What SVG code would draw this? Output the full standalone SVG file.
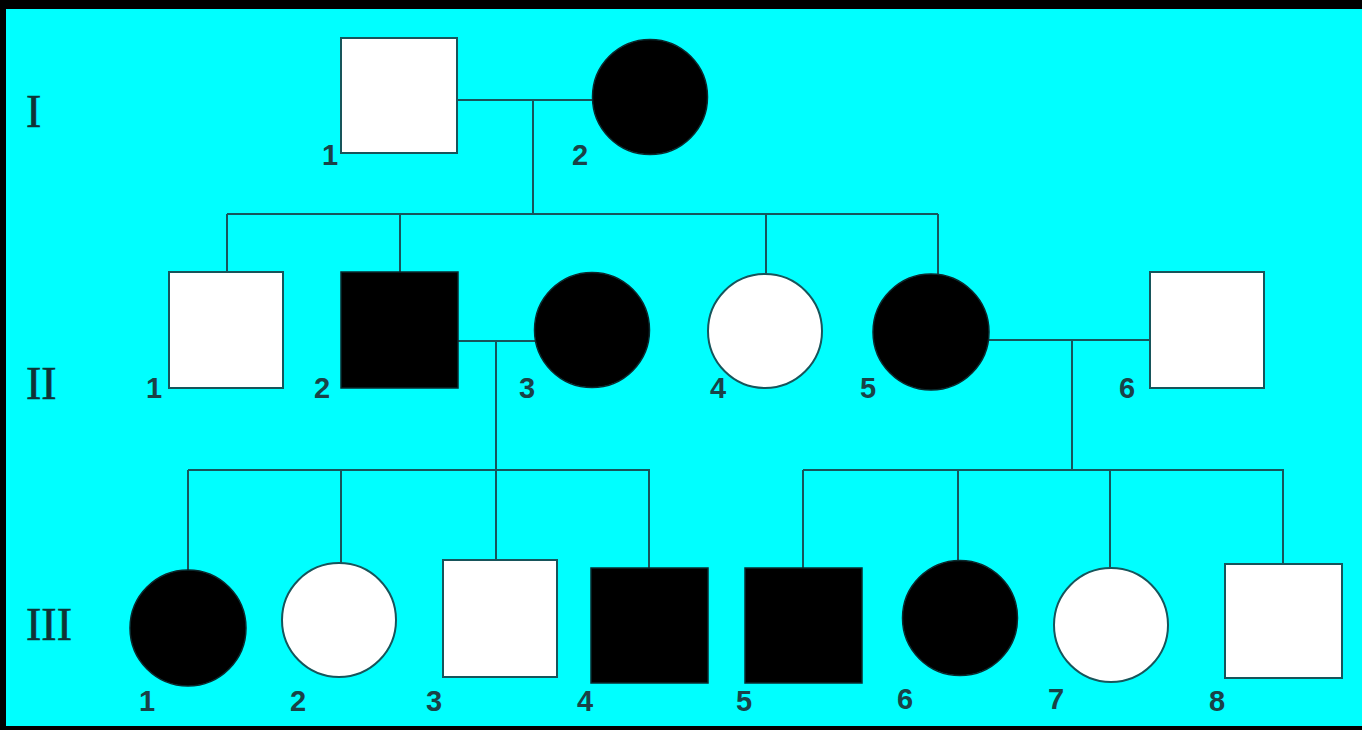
<svg xmlns="http://www.w3.org/2000/svg" width="1362" height="730" viewBox="0 0 1362 730">
  <style>
    .conn { stroke: #17555b; stroke-width: 2; fill: none; }
    .white { fill: #ffffff; stroke: #17555b; stroke-width: 2; }
    .black { fill: #000000; stroke: #0a2a2e; stroke-width: 1.5; }
    .num { font-family: "Liberation Sans", Arial, sans-serif; font-size: 29px; font-weight: bold; fill: #1a4247; text-anchor: middle; }
    .gen { font-family: "Liberation Serif", "Times New Roman", serif; font-size: 46px; fill: #0f3336; stroke: #0f3336; stroke-width: 0.6; }
  </style>
  <rect x="0" y="0" width="1362" height="730" fill="#000000"/>
  <rect x="6" y="9" width="1356" height="717" fill="#00ffff"/>

  <g id="generation-labels">
    <text class="gen" x="26" y="127">I</text>
    <text class="gen" x="26" y="399">II</text>
    <text class="gen" x="26" y="640">III</text>
  </g>

  <g id="connectors">
    <path class="conn" d="M457 100 H593"/>
    <path class="conn" d="M533 100 V214"/>
    <path class="conn" d="M227 214 H938"/>
    <path class="conn" d="M227 214 V272"/>
    <path class="conn" d="M400 214 V272"/>
    <path class="conn" d="M766 214 V274"/>
    <path class="conn" d="M938 214 V274"/>
    <path class="conn" d="M458 341 H535"/>
    <path class="conn" d="M496 341 V470"/>
    <path class="conn" d="M188 470 H650"/>
    <path class="conn" d="M188 470 V570"/>
    <path class="conn" d="M341 470 V563"/>
    <path class="conn" d="M496 470 V560"/>
    <path class="conn" d="M649 470 V568"/>
    <path class="conn" d="M989 340 H1150"/>
    <path class="conn" d="M1072 340 V470"/>
    <path class="conn" d="M803 470 H1284"/>
    <path class="conn" d="M803 470 V568"/>
    <path class="conn" d="M958 470 V560"/>
    <path class="conn" d="M1110 470 V568"/>
    <path class="conn" d="M1283 470 V564"/>
  </g>

  <g id="I-1"><rect class="white" x="341" y="38" width="116" height="115"/><text class="num" x="330" y="165">1</text></g>
  <g id="I-2"><circle class="black" cx="650" cy="97" r="57.5"/><text class="num" x="580" y="165">2</text></g>

  <g id="II-1"><rect class="white" x="169" y="272" width="114" height="116"/><text class="num" x="154" y="398">1</text></g>
  <g id="II-2"><rect class="black" x="341" y="272" width="117" height="116"/><text class="num" x="322" y="398">2</text></g>
  <g id="II-3"><circle class="black" cx="592" cy="330" r="57.5"/><text class="num" x="527" y="398">3</text></g>
  <g id="II-4"><circle class="white" cx="765" cy="331" r="57"/><text class="num" x="718" y="398">4</text></g>
  <g id="II-5"><circle class="black" cx="931" cy="332" r="58"/><text class="num" x="868" y="398">5</text></g>
  <g id="II-6"><rect class="white" x="1150" y="272" width="114" height="116"/><text class="num" x="1127" y="398">6</text></g>

  <g id="III-1"><circle class="black" cx="188" cy="628" r="58"/><text class="num" x="147" y="711">1</text></g>
  <g id="III-2"><circle class="white" cx="339" cy="620" r="57"/><text class="num" x="298" y="711">2</text></g>
  <g id="III-3"><rect class="white" x="443" y="560" width="114" height="117"/><text class="num" x="434" y="711">3</text></g>
  <g id="III-4"><rect class="black" x="591" y="568" width="117" height="115"/><text class="num" x="585" y="711">4</text></g>
  <g id="III-5"><rect class="black" x="745" y="568" width="117" height="115"/><text class="num" x="744" y="711">5</text></g>
  <g id="III-6"><circle class="black" cx="960" cy="618" r="57.5"/><text class="num" x="905" y="709">6</text></g>
  <g id="III-7"><circle class="white" cx="1111" cy="625" r="57"/><text class="num" x="1056" y="709">7</text></g>
  <g id="III-8"><rect class="white" x="1225" y="564" width="117" height="114"/><text class="num" x="1217" y="711">8</text></g>
</svg>
